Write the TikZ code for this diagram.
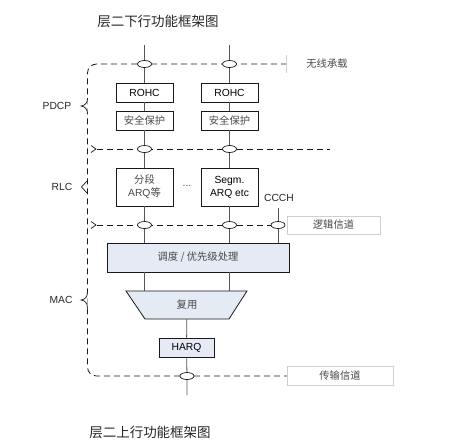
\documentclass[tikz,border=0pt]{standalone}
\usepackage{fontspec}
\setmainfont{Liberation Sans}
\newfontfamily\cjk{Noto Sans CJK SC}
\usetikzlibrary{shapes.geometric}
\definecolor{boxfill}{HTML}{E4EBF5}
\definecolor{txtgray}{HTML}{484848}
\definecolor{linegray}{HTML}{555555}
\definecolor{edgegray}{HTML}{CFCFCF}
\begin{document}
\begin{tikzpicture}[x=1pt,y=-1pt,
  fnt/.style={font=\fontsize{10.3}{12}\selectfont},
  blk/.style={fnt, draw=black!90, line width=0.8pt, fill=white, inner sep=0pt, align=center},
  smallbox/.style={blk, minimum width=57pt, minimum height=19pt},
  tallbox/.style={blk, minimum width=57pt, minimum height=38pt},
  bluebox/.style={blk, fill=boxfill},
  port/.style={ellipse, draw=black!90, line width=0.7pt, fill=white, minimum width=14pt, minimum height=7pt, inner sep=0pt},
  dashline/.style={draw=black!90, line width=0.8pt, dash pattern=on 6pt off 4pt},
  markline/.style={draw=black!90, line width=0.7pt},
  conn/.style={draw=linegray, line width=0.8pt},
  lbl/.style={fnt, text=black!85},
  chan/.style={fnt, text=txtgray, draw=edgegray, line width=0.6pt, inner sep=0pt}
]
\useasboundingbox (0,0) rectangle (459,448);

% titles
\node[font=\cjk\fontsize{13.5}{15}\selectfont, text=black!85] (title1) at (158,21) {层二下行功能框架图};
\node[font=\cjk\fontsize{13.5}{15}\selectfont, text=black!85] (title2) at (150,432) {层二上行功能框架图};

% dashed boundaries
\draw[dashline, rounded corners=9pt] (287,64) -- (87.5,64) -- (87.5,376) -- (287,376);
\draw[dashline] (97,149) -- (330,149);
\draw[dashline] (97,225) -- (272,225);
\draw[markline] (91,145.5) -- (96,149) -- (91,152.5);
\draw[markline] (91,221.5) -- (96,225) -- (91,228.5);
% braces
\draw[markline, fill=white] (87.5,98) .. controls (87.5,103) and (85,105.5) .. (81,106)
   .. controls (85,106.5) and (87.5,109) .. (87.5,114);
\draw[markline] (87,181) -- (81.5,187) -- (87,193);
\draw[markline, fill=white] (87.5,292) .. controls (87.5,297) and (85,299.5) .. (81,300)
   .. controls (85,300.5) and (87.5,303) .. (87.5,308);

% layer labels
\node[lbl] (pdcp) at (57,106) {PDCP};
\node[lbl] (rlc) at (62,187) {RLC};
\node[lbl] (mac) at (61,300) {MAC};

% channel labels
\node[fnt, text=txtgray] (rb) at (327,64) {\cjk 无线承载};
\draw[draw=edgegray, line width=0.6pt] (286,55) -- (286,73);
\node[chan, minimum width=93pt, minimum height=18pt] (lch) at (333.5,225) {\cjk 逻辑信道};
\node[chan, minimum width=106pt, minimum height=19pt] (tch) at (340,375.5) {\cjk 传输信道};

% coordinates for free ends
\coordinate (top1) at (144.5,45);
\coordinate (top2) at (229.5,45);
\coordinate (cctop) at (278,208);
\coordinate (bot) at (187,395);

% ports
\node[port] (e1a) at (144.5,64) {};
\node[port] (e2a) at (229.5,64) {};
\node[port] (e1b) at (144.5,149) {};
\node[port] (e2b) at (229.5,149) {};
\node[port] (e1c) at (144.5,225) {};
\node[port] (e2c) at (229.5,225) {};
\node[port] (e3c) at (278,225) {};
\node[port] (e4) at (187,376) {};

% PDCP boxes
\node[smallbox] (rohc1) at (144.5,92.5) {ROHC};
\node[smallbox] (rohc2) at (229.5,92.5) {ROHC};
\node[smallbox, text=txtgray] (sec1) at (144.5,120.5) {\cjk 安全保护};
\node[smallbox, text=txtgray] (sec2) at (229.5,120.5) {\cjk 安全保护};

% RLC boxes
\node[tallbox, text=txtgray] (rlc1) at (144.5,187) {{\cjk 分段}\\[1pt]ARQ{\cjk 等}};
\node[tallbox] (rlc2) at (229.5,187) {Segm.\\[1pt]ARQ etc};
\node[fnt, text=txtgray] (dots) at (187,186) {...};
\node[lbl] (ccch) at (279,197.5) {CCCH};

% MAC
\node[bluebox, minimum width=182pt, minimum height=29pt, text=txtgray] (sched) at (198,257.5) {\cjk 调度 / 优先级处理};
\fill[boxfill] (126,291) -- (247,291) -- (229,319) -- (145,319) -- cycle;
\draw[black!90, line width=0.8pt] (126,291) -- (247,291) -- (229,319) -- (145,319) -- cycle;
\node[fnt, text=txtgray, minimum width=84pt, minimum height=28pt, inner sep=0pt] (mux) at (187,305) {\cjk 复用};
\node[bluebox, minimum width=55pt, minimum height=19pt] (harq) at (186.5,347.5) {HARQ};

% connectors
\draw[conn] (top1) -- (e1a) -- (rohc1) -- (sec1) -- (e1b) -- (rlc1) -- (e1c) -- (sched.north -| e1c);
\draw[conn] (top2) -- (e2a) -- (rohc2) -- (sec2) -- (e2b) -- (rlc2) -- (e2c) -- (sched.north -| e2c);
\draw[conn] (cctop) -- (e3c) -- (sched.north -| e3c);
\draw[conn] (sched.south -| e1c) -- (mux.north -| e1c);
\draw[conn] (sched.south -| e2c) -- (mux.north -| e2c);
\draw[conn] (mux) -- (harq);
\draw[conn] (harq) -- (e4) -- (bot);
\end{tikzpicture}
\end{document}
